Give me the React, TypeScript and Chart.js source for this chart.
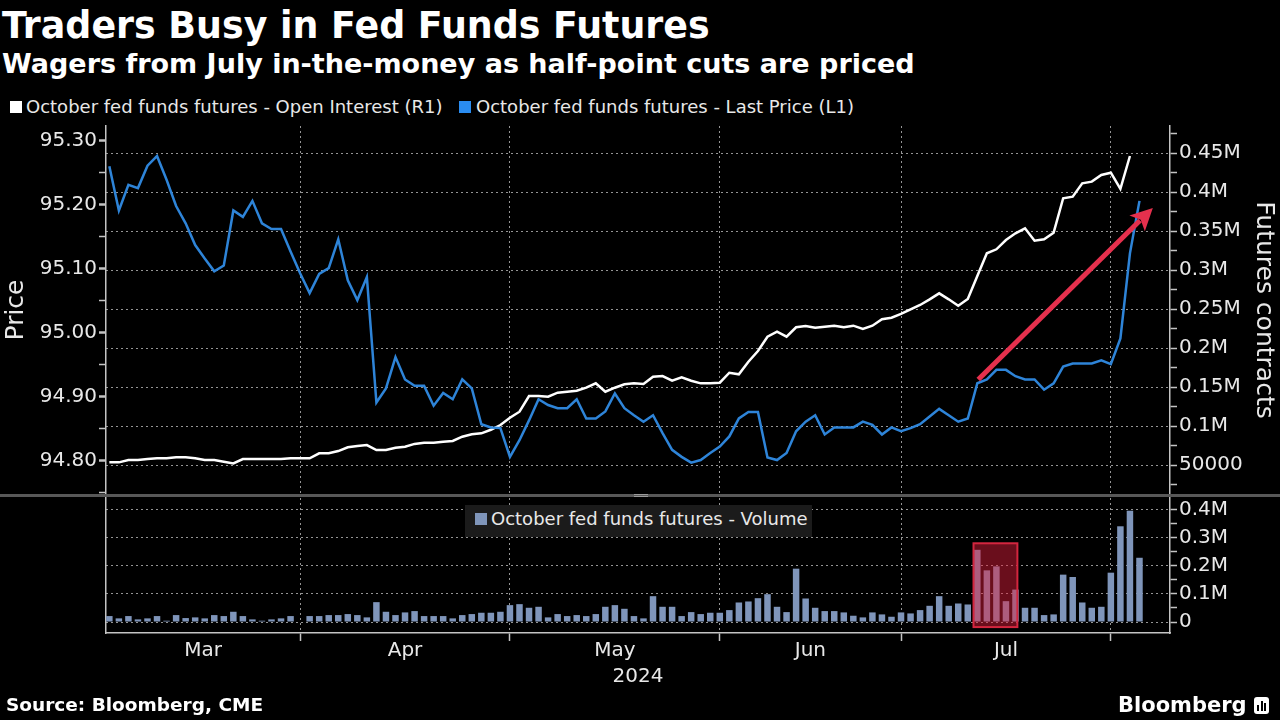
import React, { useEffect, useRef } from "react";
import { Chart, registerables } from "chart.js";

Chart.register(...registerables);

// ---------------- data ----------------
const START_DATE = "2024-03-01";
const HOLIDAYS = ["2024-05-27", "2024-06-19", "2024-07-04"];
const monthNames = ["Mar", "Apr", "May", "Jun", "Jul"];
const yearLabel = "2024";

// October fed funds futures - Last Price (one value per trading day, Mar 1 .. Aug 5)
const lastPrice = [
  95.26, 95.191, 95.231, 95.226, 95.261, 95.276, 95.239, 95.198, 95.171, 95.137,
  95.116, 95.096, 95.105, 95.191, 95.181, 95.206, 95.171, 95.162, 95.162, 95.127,
  95.093, 95.062, 95.092, 95.101, 95.146, 95.082, 95.051, 95.087, 94.891, 94.913,
  94.962, 94.927, 94.917, 94.917, 94.886, 94.906, 94.896, 94.927, 94.913, 94.857,
  94.852, 94.851, 94.806, 94.832, 94.863, 94.896, 94.887, 94.882, 94.882, 94.896,
  94.866, 94.866, 94.877, 94.905, 94.882, 94.871, 94.861, 94.871, 94.843, 94.817,
  94.806, 94.797, 94.801, 94.812, 94.822, 94.838, 94.866, 94.876, 94.876, 94.805,
  94.801, 94.812, 94.846, 94.861, 94.871, 94.841, 94.852, 94.852, 94.852, 94.861,
  94.856, 94.841, 94.852, 94.846, 94.851, 94.857, 94.869, 94.881, 94.871, 94.861,
  94.866, 94.921, 94.927, 94.942, 94.942, 94.932, 94.927, 94.927, 94.911, 94.921,
  94.947, 94.952, 94.952, 94.952, 94.957, 94.951, 94.991, 95.124, 95.206,
];

// October fed funds futures - Open Interest
const openInterest = [
  53400, 53400, 56400, 56400, 57700, 58600, 58600, 59900, 59900, 58600,
  56400, 56400, 54200, 52100, 57700, 57700, 57700, 57700, 57700, 58600,
  58600, 58600, 65000, 65000, 67900, 72700, 74300, 75600, 69200, 69200,
  72200, 73500, 77100, 78600, 78600, 79900, 80800, 86300, 89400, 90600,
  95200, 101300, 110700, 118400, 138500, 138500, 137600, 142800, 144100, 145400,
  149200, 154800, 144100, 149200, 153500, 154800, 153900, 163300, 164200, 158200,
  162500, 158200, 154800, 154800, 155600, 168400, 166400, 182600, 196300, 214600,
  221000, 214600, 226700, 228400, 226200, 227500, 228800, 226700, 228800, 224500,
  228800, 237000, 239000, 243800, 249800, 255300, 262600, 270300, 262600, 254400,
  263000, 292500, 321700, 326800, 338700, 347300, 353700, 337800, 339600, 348100,
  392300, 394300, 411500, 413600, 422100, 425100, 404200, 446500, null,
];

// October fed funds futures - Volume
const volume = [
  21200, 13000, 21200, 9400, 13000, 21200, 4700, 24700, 14100, 16500,
  13000, 24700, 21200, 36500, 21200, 9400, 4700, 9400, 13000, 21200,
  0, 21200, 21200, 24700, 24700, 28300, 24700, 16500, 70700, 36500,
  24700, 34200, 38900, 21200, 21200, 21200, 13000, 24700, 28300, 33000,
  33000, 36500, 60100, 63600, 50700, 54200, 16500, 28300, 21200, 24700,
  21200, 28300, 54200, 60100, 47100, 21200, 13000, 91900, 54200, 54200,
  21200, 35300, 28300, 33000, 33000, 42400, 69500, 73100, 84800, 99000,
  54200, 35300, 189700, 83700, 50700, 38900, 38900, 34200, 22400, 16500,
  34200, 27100, 18800, 34200, 30600, 42400, 57700, 91900, 57700, 65900,
  62400, 256800, 183800, 197900, 74200, 115400, 50700, 50700, 24700, 27100,
  168500, 160200, 69500, 50700, 54200, 175500, 340400, 395800, 228500,
];

// annotations, in data units (trading-day index, price / contracts)
const arrowFrom = [91.1, 94.927];
const arrowTo = [109.4, 95.195];
const highlightX = [90.6, 95.2];
const highlightY = [-18000, 280000];

// axis ranges and tick steps
const xRange = [-0.35, 111.2];
const priceRange = [94.748, 95.323];
const contractsRange = [12800, 485000];
const volumeRange = [-39000, 441000];
const priceStep = 0.05;
const contractsStep = 25000;
const volumeStep = 50000;

// ---------------- derived ----------------
function tradingDays(count: number): string[] {
  const out: string[] = [];
  const d = new Date(START_DATE + "T00:00:00Z");
  while (out.length < count) {
    const wd = d.getUTCDay();
    const iso = d.toISOString().slice(0, 10);
    if (wd !== 0 && wd !== 6 && !HOLIDAYS.includes(iso)) out.push(iso);
    d.setUTCDate(d.getUTCDate() + 1);
  }
  return out;
}
const dates = tradingDays(lastPrice.length);
const monthEnds: number[] = [];
for (let i = 0; i < dates.length - 1; i++) {
  if (dates[i].slice(0, 7) !== dates[i + 1].slice(0, 7)) monthEnds.push(i);
}
const boundaries = monthEnds.slice(0, monthNames.length);
const centers = boundaries.map((b, k) => ((k === 0 ? xRange[0] : boundaries[k - 1]) + b) / 2);

// ---------------- styles ----------------
const FONT = "'DejaVu Sans', sans-serif";
const TEXT = "#e8e8e8";
const AXIS = "#c4c4c4";
const GRID = "rgba(185,185,185,0.8)";
const BLUE = "#2e84d8";
const WHITE = "#ffffff";
const BAR = "#7f95ba";
const RED = "#e5304d";

Chart.defaults.font.family = FONT;
Chart.defaults.color = TEXT;

const near = (a: number, b: number) => Math.abs(a - b) < 1e-6;
const isMult = (v: number, step: number) => near(v / step, Math.round(v / step));

const stepTicks = (step: number) => (s: any) => {
  const out: { value: number }[] = [];
  const first = Math.ceil(s.min / step - 1e-9);
  const last = Math.floor(s.max / step + 1e-9);
  for (let k = first; k <= last; k++) out.push({ value: Number((k * step).toFixed(6)) });
  s.ticks = out;
};

const contractsLabel = (v: number) => {
  if (!isMult(v, 50000) || v <= 0) return "";
  if (v < 100000) return String(Math.round(v));
  return String(Math.round(v / 10000) / 100) + "M";
};
const volumeLabel = (v: number) => {
  if (!isMult(v, 100000) || v < 0) return "";
  if (near(v, 0)) return "0";
  return String(Math.round(v / 10000) / 100) + "M";
};

const arrowPlugin = {
  id: "arrowNote",
  afterDatasetsDraw(chart: any) {
    const xs = chart.scales.x;
    const ys = chart.scales.y;
    const ctx = chart.ctx;
    const x1 = xs.getPixelForValue(arrowFrom[0]);
    const y1 = ys.getPixelForValue(arrowFrom[1]);
    const x2 = xs.getPixelForValue(arrowTo[0]);
    const y2 = ys.getPixelForValue(arrowTo[1]);
    const ang = Math.atan2(y2 - y1, x2 - x1);
    const head = 22;
    const half = 11;
    const c = Math.cos(ang);
    const s = Math.sin(ang);
    const bx = x2 - head * c;
    const by = y2 - head * s;
    ctx.save();
    ctx.strokeStyle = RED;
    ctx.fillStyle = RED;
    ctx.lineWidth = 5;
    ctx.beginPath();
    ctx.moveTo(x1, y1);
    ctx.lineTo(bx + 4 * c, by + 4 * s);
    ctx.stroke();
    ctx.beginPath();
    ctx.moveTo(x2, y2);
    ctx.lineTo(bx + half * s, by - half * c);
    ctx.lineTo(bx + 5 * c, by + 5 * s);
    ctx.lineTo(bx - half * s, by + half * c);
    ctx.closePath();
    ctx.fill();
    ctx.restore();
  },
};

const highlightPlugin = {
  id: "highlightBox",
  afterDatasetsDraw(chart: any) {
    const xs = chart.scales.x;
    const ys = chart.scales.y;
    const ctx = chart.ctx;
    const l = xs.getPixelForValue(highlightX[0]);
    const r = xs.getPixelForValue(highlightX[1]);
    const t = ys.getPixelForValue(highlightY[1]);
    const b = ys.getPixelForValue(highlightY[0]);
    ctx.save();
    ctx.fillStyle = "rgba(225,30,60,0.47)";
    ctx.fillRect(l, t, r - l, b - t);
    ctx.strokeStyle = "#d3263f";
    ctx.lineWidth = 2;
    ctx.strokeRect(l, t, r - l, b - t);
    ctx.restore();
  },
};

export default function App() {
  const topRef = useRef<HTMLCanvasElement | null>(null);
  const botRef = useRef<HTMLCanvasElement | null>(null);

  useEffect(() => {
    if (!topRef.current || !botRef.current) return;

    const top = new Chart(topRef.current, {
      type: "line",
      data: {
        datasets: [
          {
            label: "October fed funds futures - Last Price (L1)",
            data: lastPrice.map((v, i) => ({ x: i, y: v })),
            borderColor: BLUE,
            borderWidth: 2.5,
            pointRadius: 0,
            tension: 0,
            yAxisID: "y",
          },
          {
            label: "October fed funds futures - Open Interest (R1)",
            data: openInterest.map((v, i) => ({ x: i, y: v })),
            borderColor: WHITE,
            borderWidth: 2.5,
            pointRadius: 0,
            tension: 0,
            yAxisID: "y1",
          },
        ],
      },
      options: {
        responsive: false,
        animation: false,
        events: [],
        layout: { padding: { top: 26, bottom: 26, left: 0, right: 0 } },
        plugins: { legend: { display: false }, tooltip: { enabled: false } },
        scales: {
          x: {
            type: "linear",
            min: xRange[0],
            max: xRange[1],
            offset: false,
            afterBuildTicks: (s: any) => {
              s.ticks = boundaries.map((v) => ({ value: v }));
            },
            afterFit: (s: any) => {
              s.height = 0;
            },
            ticks: { display: false, autoSkip: false },
            grid: { color: GRID, lineWidth: 1, drawTicks: false, offset: false },
            border: { display: false, dash: [2, 3] },
          },
          y: {
            type: "linear",
            position: "left",
            min: priceRange[0],
            max: priceRange[1],
            afterBuildTicks: stepTicks(priceStep),
            afterFit: (s: any) => {
              s.width = 106;
            },
            ticks: {
              autoSkip: false,
              color: TEXT,
              padding: 2,
              font: { size: 20 },
              callback: (v: any) => (isMult(Number(v), 0.1) ? Number(v).toFixed(2) : ""),
            },
            grid: {
              drawOnChartArea: false,
              tickLength: 7,
              tickColor: AXIS,
              tickWidth: (c: any) => (c.tick && isMult(c.tick.value, 0.1) ? 2.5 : 1.5),
            },
            border: { color: AXIS, width: 1.5 },
            title: {
              display: true,
              text: "Price",
              color: TEXT,
              font: { size: 25 },
              padding: { top: 1, bottom: 0 },
            },
          },
          y1: {
            type: "linear",
            position: "right",
            min: contractsRange[0],
            max: contractsRange[1],
            afterBuildTicks: stepTicks(contractsStep),
            afterFit: (s: any) => {
              s.width = 110;
            },
            ticks: {
              autoSkip: false,
              color: TEXT,
              padding: 2,
              font: { size: 20 },
              callback: (v: any) => contractsLabel(Number(v)),
            },
            grid: {
              drawOnChartArea: true,
              color: (c: any) => (c.tick && isMult(c.tick.value, 50000) ? GRID : "transparent"),
              lineWidth: 1,
              tickLength: 7,
              tickColor: AXIS,
              tickWidth: 1.5,
            },
            border: { color: AXIS, width: 1.5, dash: [2, 3] },
            title: {
              display: true,
              text: "Futures contracts",
              color: TEXT,
              font: { size: 25 },
              padding: { top: 2, bottom: 0 },
            },
          },
        },
      } as any,
      plugins: [arrowPlugin],
    });

    const bot = new Chart(botRef.current, {
      type: "bar",
      data: {
        datasets: [
          {
            label: "October fed funds futures - Volume",
            data: volume.map((v, i) => ({ x: i, y: v })),
            backgroundColor: BAR,
            borderWidth: 0,
            barPercentage: 0.68,
            categoryPercentage: 1,
            yAxisID: "y",
          },
        ],
      },
      options: {
        responsive: false,
        animation: false,
        events: [],
        layout: { padding: { top: 18, bottom: 27, left: 0, right: 0 } },
        plugins: { legend: { display: false }, tooltip: { enabled: false } },
        scales: {
          x: {
            type: "linear",
            min: xRange[0],
            max: xRange[1],
            offset: false,
            afterBuildTicks: (s: any) => {
              s.ticks = [...boundaries, ...centers].sort((a, b) => a - b).map((v) => ({ value: v }));
            },
            afterFit: (s: any) => {
              s.height = 60;
            },
            ticks: {
              autoSkip: false,
              maxRotation: 0,
              minRotation: 0,
              color: TEXT,
              padding: 0,
              font: { size: 20, lineHeight: 1 },
              callback: (v: any) => {
                const k = centers.findIndex((c) => near(c, Number(v)));
                return k >= 0 ? monthNames[k] : "";
              },
            },
            grid: {
              offset: false,
              color: (c: any) => (c.tick && boundaries.some((b) => near(b, c.tick.value)) ? GRID : "transparent"),
              tickColor: (c: any) => (c.tick && boundaries.some((b) => near(b, c.tick.value)) ? AXIS : "transparent"),
              lineWidth: 1,
              tickLength: 8,
              tickWidth: 1.5,
            },
            border: { color: AXIS, width: 1.5, dash: [2, 3] },
            title: {
              display: true,
              text: yearLabel,
              color: TEXT,
              font: { size: 20, lineHeight: 1 },
              padding: { top: 0, bottom: 6 },
            },
          },
          yl: {
            type: "linear",
            position: "left",
            afterFit: (s: any) => {
              s.width = 106;
            },
            ticks: { display: false },
            grid: { drawOnChartArea: false, drawTicks: false },
            border: { color: AXIS, width: 1.5 },
          },
          y: {
            type: "linear",
            position: "right",
            min: volumeRange[0],
            max: volumeRange[1],
            afterBuildTicks: stepTicks(volumeStep),
            afterFit: (s: any) => {
              s.width = 110;
            },
            ticks: {
              autoSkip: false,
              color: TEXT,
              padding: 2,
              font: { size: 20 },
              callback: (v: any) => volumeLabel(Number(v)),
            },
            grid: {
              drawOnChartArea: true,
              color: (c: any) => (c.tick && isMult(c.tick.value, 100000) ? GRID : "transparent"),
              lineWidth: 1,
              tickLength: 7,
              tickColor: AXIS,
              tickWidth: 1.5,
            },
            border: { color: AXIS, width: 1.5, dash: [2, 3] },
          },
        },
      } as any,
      plugins: [highlightPlugin],
    });

    return () => {
      top.destroy();
      bot.destroy();
    };
  }, []);

  const txt: React.CSSProperties = {
    position: "absolute",
    whiteSpace: "nowrap",
    fontFamily: FONT,
    color: TEXT,
  };

  return (
    <div
      style={{
        position: "absolute",
        left: 0,
        top: 0,
        width: 1280,
        height: 720,
        background: "#000",
        overflow: "hidden",
        fontFamily: FONT,
      }}
    >
      <div style={{ ...txt, left: 2, top: 8, fontSize: 36.4, lineHeight: "36px", fontWeight: "bold", color: "#fff" }}>
        Traders Busy in Fed Funds Futures
      </div>
      <div style={{ ...txt, left: 2, top: 50, fontSize: 27, lineHeight: "27px", fontWeight: "bold", color: "#fff" }}>
        Wagers from July in-the-money as half-point cuts are priced
      </div>

      <div style={{ position: "absolute", left: 10, top: 101, width: 12, height: 12, background: WHITE }} />
      <div style={{ ...txt, left: 26, top: 98, fontSize: 18, lineHeight: "18px" }}>
        October fed funds futures - Open Interest (R1)
      </div>
      <div style={{ position: "absolute", left: 459, top: 101, width: 12, height: 12, background: "#2a8cf0" }} />
      <div style={{ ...txt, left: 476, top: 98, fontSize: 18, lineHeight: "18px" }}>
        October fed funds futures - Last Price (L1)
      </div>

      <canvas
        ref={topRef}
        width={1280}
        height={420}
        style={{ position: "absolute", left: 0, top: 100, width: 1280, height: 420 }}
      />
      <canvas
        ref={botRef}
        width={1280}
        height={240}
        style={{ position: "absolute", left: 0, top: 480, width: 1280, height: 240 }}
      />

      <div style={{ position: "absolute", left: 0, top: 494, width: 1280, height: 3, background: "#585858" }} />
      <div style={{ position: "absolute", left: 634, top: 494, width: 14, height: 1, background: "#9a9a9a" }} />
      <div style={{ position: "absolute", left: 634, top: 496, width: 14, height: 1, background: "#9a9a9a" }} />

      <div style={{ position: "absolute", left: 465, top: 505, width: 347, height: 32, background: "#1b1b1b" }} />
      <div style={{ position: "absolute", left: 475, top: 513, width: 12, height: 12, background: BAR }} />
      <div style={{ ...txt, left: 491, top: 510, fontSize: 18, lineHeight: "18px" }}>
        October fed funds futures - Volume
      </div>

      <div style={{ ...txt, left: 6, top: 696, fontSize: 18.5, lineHeight: "18.5px", fontWeight: "bold", color: "#fff" }}>
        Source: Bloomberg, CME
      </div>
      <div style={{ ...txt, left: 1118, top: 695, fontSize: 21, lineHeight: "21px", fontWeight: "bold", color: "#fff" }}>
        Bloomberg
      </div>
      <div
        style={{
          position: "absolute",
          left: 1254,
          top: 697,
          width: 15,
          height: 17,
          background: "#fff",
          borderRadius: 3,
        }}
      >
        <div style={{ position: "absolute", left: 3, top: 8, width: 2, height: 6, background: "#000" }} />
        <div style={{ position: "absolute", left: 6.5, top: 4, width: 2, height: 10, background: "#000" }} />
        <div style={{ position: "absolute", left: 10, top: 6, width: 2, height: 8, background: "#000" }} />
      </div>
    </div>
  );
}
